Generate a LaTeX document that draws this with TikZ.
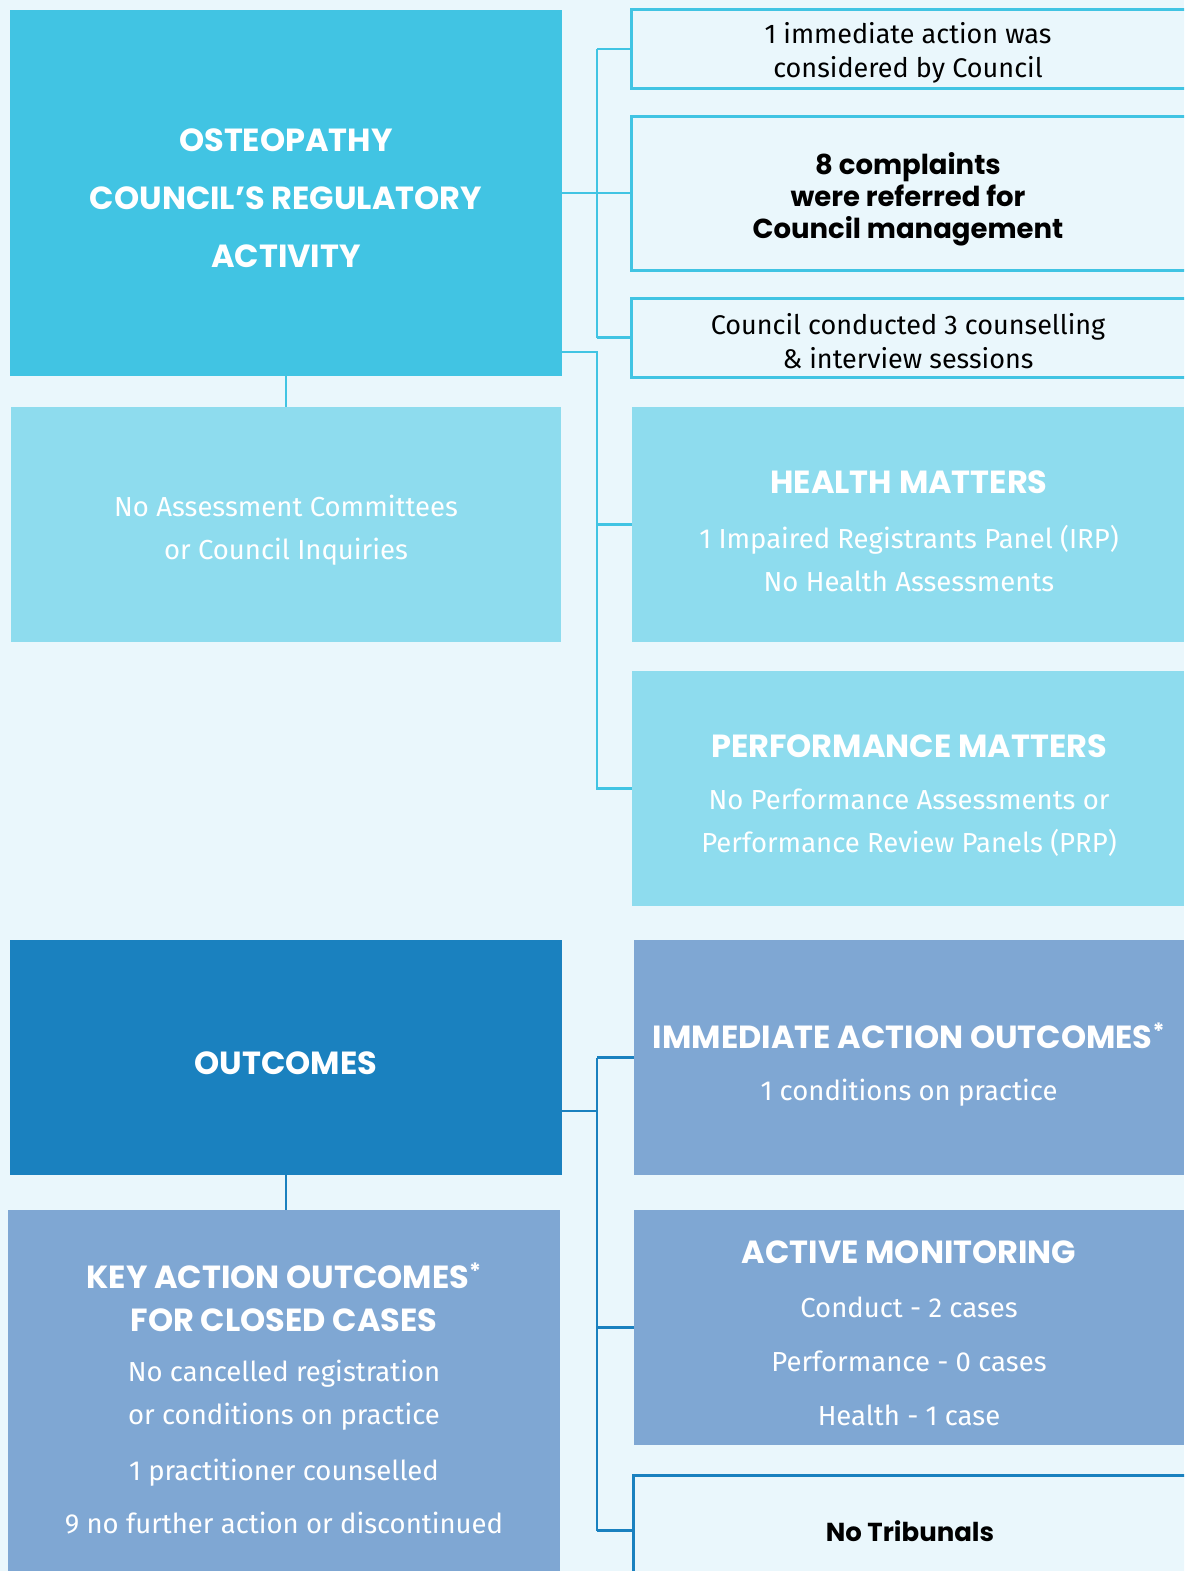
\documentclass[tikz,border=0pt]{standalone}
\usepackage{fontspec}
\setmainfont{Fira Sans}
\newfontfamily\headfont{Poppins}
\definecolor{bg}{HTML}{EAF7FC}
\definecolor{cyanA}{HTML}{41C4E3}
\definecolor{cyanL}{HTML}{8EDCEE}
\definecolor{blueD}{HTML}{1A81BF}
\definecolor{periw}{HTML}{7FA7D3}
\tikzset{
  box/.style={rectangle, inner sep=0pt, outer sep=0pt, draw=none},
  obox/.style={rectangle, inner sep=0pt, outer sep=0pt, fill=bg, line width=3pt},
  hdr/.style={font=\headfont\bfseries\fontsize{32}{58}\selectfont, text=white, align=center, inner sep=0pt},
  bodyw/.style={font=\fontsize{27.5}{43}\selectfont, text=white, align=center, inner sep=0pt},
  bodyk/.style={font=\fontsize{27}{34}\selectfont, text=black, align=center, inner sep=0pt},
  boldk/.style={font=\headfont\bfseries\fontsize{27.5}{32}\selectfont, text=black, align=center, inner sep=0pt},
  cline/.style={draw=cyanA, line width=2.5pt},
  dline/.style={draw=blueD, line width=2.5pt},
}
\begin{document}
\begin{tikzpicture}[x=1pt,y=-1pt]
\useasboundingbox (0,0) rectangle (1184,1571);
\clip (0,0) rectangle (1184,1571);
\fill[bg] (0,0) rectangle (1184,1571);
% ---------- top section boxes
\node[box, fill=cyanA, minimum width=552pt, minimum height=366pt] (A) at (286,193) {};
\node[box, fill=cyanL, minimum width=550pt, minimum height=235pt] (B) at (286,524.5) {};
\node[obox, draw=cyanA, minimum width=555pt, minimum height=78pt] (b1) at (908.5,49) {};
\node[obox, draw=cyanA, minimum width=555pt, minimum height=154pt] (b2) at (908.5,193) {};
\node[obox, draw=cyanA, minimum width=555pt, minimum height=79pt] (b3) at (908.5,337.5) {};
\node[box, fill=cyanL, minimum width=552pt, minimum height=235pt] (H) at (908,524.5) {};
\node[box, fill=cyanL, minimum width=552pt, minimum height=235pt] (P) at (908,788.5) {};
% ---------- bottom section boxes
\node[box, fill=blueD, minimum width=552pt, minimum height=235pt] (O) at (286,1057.5) {};
\node[box, fill=periw, minimum width=552pt, minimum height=370pt] (K) at (284,1395) {};
\node[box, fill=periw, minimum width=550pt, minimum height=235pt] (IA) at (909,1057.5) {};
\node[box, fill=periw, minimum width=550pt, minimum height=235pt] (AM) at (909,1327.5) {};
\node[obox, draw=blueD, minimum width=553pt, minimum height=111pt] (NT) at (909.5,1530.5) {};
% ---------- junction coordinates
\coordinate (j1) at (597,190);
\coordinate (j2) at (597,352);
\coordinate (j3) at (597,1111);
% ---------- connectors top
\draw[cline] (A.east) -- (A.east -| j1);
\draw[cline] (j1 |- b1.west) -- (j1 |- b3.west);
\draw[cline] (j1 |- b1.west) -- (b1.west);
\draw[cline] (j1 |- b2.west) -- (b2.west);
\draw[cline] (j1 |- b3.west) -- (b3.west);
\draw[cline] ([yshift=24pt]A.south east) -- (j2) -- (j2 |- P.west) -- (P.west);
\draw[cline] (j2 |- H.west) -- (H.west);
\draw[cline] (A.south) -- (A.south |- B.north);
% ---------- connectors bottom
\draw[dline] ([yshift=-53.5pt]O.east) -- (j3);
\draw[dline] (j3 |- IA.west) -- (j3 |- NT.west);
\draw[dline] (j3 |- IA.west) -- (IA.west);
\draw[dline] (j3 |- AM.west) -- (AM.west);
\draw[dline] (j3 |- NT.west) -- (NT.west);
\draw[dline] (O.south) -- (O.south |- K.north);
% ---------- texts
\node[hdr] (tA) at (286,198) {OSTEOPATHY\\COUNCIL’S REGULATORY\\ACTIVITY};
\node[bodyw] (tB) at (286,530) {No Assessment Committees\\or Council Inquiries};
\node[bodyk] (t1) at (908,53) {1 immediate action was\\considered by Council};
\node[boldk] (t2) at (908,199) {8 complaints\\were referred for\\Council management};
\node[bodyk] (t3) at (908,341) {Council conducted 3 counselling\\\& interview sessions};
\node[hdr] (hH) at (909,482) {HEALTH MATTERS};
\node[bodyw] (bH) at (909,559) {1 Impaired Registrants Panel (IRP)\\No Health Assessments};
\node[hdr] (hP) at (909,746) {PERFORMANCE MATTERS};
\node[bodyw] (bP) at (909,823) {No Performance Assessments or\\Performance Review Panels (PRP)};
\node[hdr] (hO) at (286,1063) {OUTCOMES};
\node[hdr] (hIA) at (909,1036) {IMMEDIATE ACTION OUTCOMES\textsuperscript{*}};
\node[bodyw] (bIA) at (909,1093) {1 conditions on practice};
\node[hdr] (hAM) at (909,1252) {ACTIVE MONITORING};
\node[bodyw, font=\fontsize{27.5}{54}\selectfont] (bAM) at (909,1361) {Conduct - 2 cases\\Performance - 0 cases\\Health - 1 case};
\node[hdr, font=\headfont\bfseries\fontsize{32}{43}\selectfont] (hK) at (284,1297) {KEY ACTION OUTCOMES\textsuperscript{*}\\FOR CLOSED CASES};
\node[bodyw] (bK1) at (284,1395) {No cancelled registration\\or conditions on practice};
\node[bodyw, font=\fontsize{27.5}{53}\selectfont] (bK2) at (284,1497) {1 practitioner counselled\\9 no further action or discontinued};
\node[boldk, font=\headfont\bfseries\fontsize{26}{32}\selectfont] (tNT) at (910,1531) {No Tribunals};
\end{tikzpicture}
\end{document}
